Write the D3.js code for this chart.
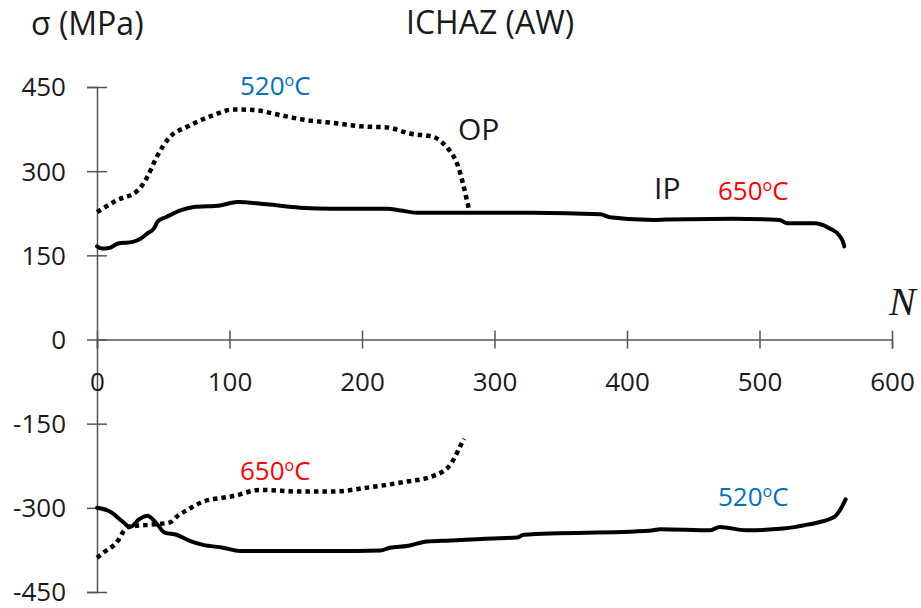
<!DOCTYPE html>
<html>
<head>
<meta charset="utf-8">
<script src="https://cdn.jsdelivr.net/npm/d3@7"></script>
<style>
  body { margin: 0; background: #fff; }
  text { font-family: "Open Sans", sans-serif; fill: #1a1a1a; }
</style>
</head>
<body>
<svg id="chart" width="921" height="608"></svg>
<script>
// cycle number N vs stress (MPa)
var xTicks = [0, 100, 200, 300, 400, 500, 600];
var yTicks = [450, 300, 150, 0, -150, -300, -450];

// in-phase, tension peak (650 C)
var ipTop = [[0,166],[4,162],[9,163],[16,171],[27,174],[33,180],[38,189],[43,198],[46,211],[52,218],
  [63,230],[73,236],[93,239],[106,245],[128,241],[153,235],[178,233],[219,233],[229,230],[241,226],
  [279,226],[329,226],[380,223],[387,218],[420,213],[430,214],[480,215],[515,213],[521,207],[541,207],
  [553,198],[560,186],[563,174],[564,166]];

// out-of-phase, tension peak (520 C)
var opTop = [[0,227],[15,248],[31,266],[38,290],[45,325],[55,361],[68,379],[88,400],[103,410],[118,409],
  [138,400],[158,391],[178,386],[199,380],[219,378],[236,367],[254,361],[260,352],[266,337],[272,312],
  [276,280],[279,250],[281,230]];

// in-phase, compression peak (520 C)
var ipBot = [[0,-300],[10,-307],[20,-326],[25,-334],[32,-320],[38,-314],[45,-328],[51,-344],[60,-348],
  [70,-359],[80,-366],[95,-371],[108,-377],[178,-377],[214,-376],[221,-371],[234,-368],[249,-360],
  [267,-358],[304,-354],[317,-353],[322,-348],[417,-341],[425,-338],[463,-340],[470,-334],[490,-340],
  [518,-337],[536,-330],[556,-317],[562,-299],[565,-285]];

// out-of-phase, compression peak (650 C)
var opBot = [[0,-389],[6,-378],[16,-358],[20,-342],[25,-333],[40,-330],[55,-326],[61,-314],[68,-304],
  [80,-289],[95,-282],[103,-279],[123,-268],[153,-271],[178,-271],[204,-264],[229,-255],[254,-243],
  [267,-222],[275,-186],[277,-177]];

var svg = d3.select("#chart");

var x = d3.scaleLinear().domain([0, 600]).range([97, 892]);
var y = d3.scaleLinear().domain([-450, 450]).range([592, 87]);

var line = d3.line()
    .x(function(d) { return x(d[0]); })
    .y(function(d) { return y(d[1]); })
    .curve(d3.curveMonotoneX);

var plain = function(d) { return String(d); };   // keep the hyphen minus

// y axis
var gy = svg.append("g")
    .attr("transform", "translate(" + x(0) + ",0)")
    .call(d3.axisLeft(y).tickValues(yTicks).tickFormat(plain).tickSizeOuter(0).tickSize(10));
gy.select(".domain").attr("stroke", "#555").attr("stroke-width", 1.5);
gy.selectAll(".tick line").attr("x1", -10).attr("x2", 10).attr("stroke", "#555").attr("stroke-width", 1.5);
gy.selectAll(".tick text")
    .attr("x", -31).attr("dy", "0.34em")
    .style("font-size", "26px").style("font-family", "'Open Sans', sans-serif").attr("fill", "#1a1a1a");

// x axis through zero
var gx = svg.append("g")
    .attr("transform", "translate(0," + y(0) + ")")
    .call(d3.axisBottom(x).tickValues(xTicks).tickFormat(plain).tickSizeOuter(0).tickSize(9));
gx.select(".domain").attr("stroke", "#555").attr("stroke-width", 1.5);
gx.selectAll(".tick line").attr("y1", -9).attr("y2", 9).attr("stroke", "#555").attr("stroke-width", 1.5);
gx.selectAll(".tick text")
    .attr("y", 51).attr("dy", 0)
    .style("font-size", "26px").style("font-family", "'Open Sans', sans-serif").attr("fill", "#1a1a1a");

// curves
[ipTop, ipBot].forEach(function(s) {
  svg.append("path").datum(s)
      .attr("fill", "none").attr("stroke", "#000").attr("stroke-width", 4)
      .attr("stroke-linejoin", "round").attr("stroke-linecap", "round")
      .attr("d", line);
});
[opTop, opBot].forEach(function(s) {
  svg.append("path").datum(s)
      .attr("fill", "none").attr("stroke", "#000").attr("stroke-width", 4.5)
      .attr("stroke-dasharray", "4.5,4")
      .attr("d", line);
});

// titles
svg.append("text").attr("x", 31).attr("y", 35).style("font-size", "32px").text("σ (MPa)");
svg.append("text").attr("x", 406).attr("y", 34).style("font-size", "32px").text("ICHAZ (AW)");
svg.append("text").attr("x", 889).attr("y", 315)
    .style("font-family", "'Liberation Serif', serif").style("font-style", "italic")
    .style("font-size", "40px").text("N");

// annotations
svg.append("text").attr("x", 458).attr("y", 140).style("font-size", "30px").text("OP");
svg.append("text").attr("x", 654).attr("y", 199).style("font-size", "30px").text("IP");

function temp(xp, yp, val, color) {
  var t = svg.append("text").attr("x", xp).attr("y", yp)
      .style("font-size", "26px").style("fill", color);
  t.append("tspan").text(val);
  t.append("tspan").attr("dy", -9).style("font-size", "16px").text("o");
  t.append("tspan").attr("dy", 9).text("C");
}
temp(240, 95, "520", "#0070C0");
temp(718, 200, "650", "#FF0000");
temp(240, 480, "650", "#FF0000");
temp(718, 506, "520", "#0070C0");
</script>
</body>
</html>
